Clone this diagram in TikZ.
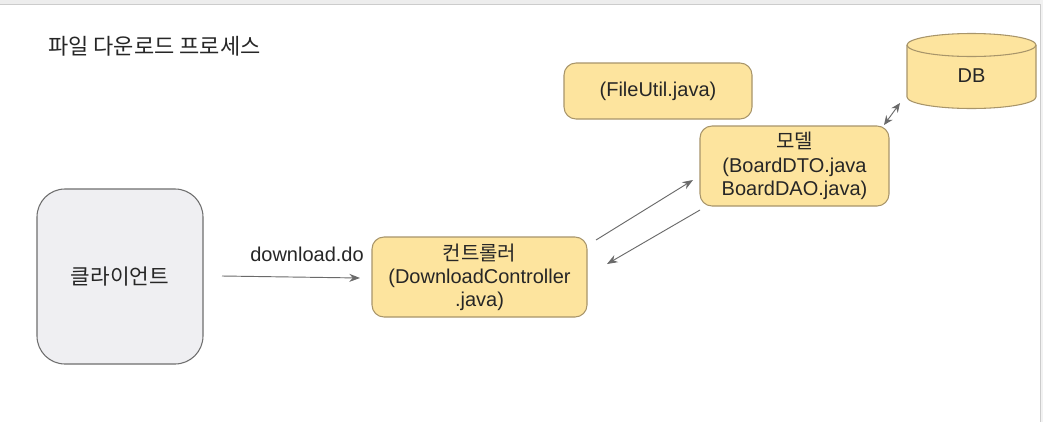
\documentclass[tikz,border=0pt]{standalone}
\usepackage{fontspec}
\setmainfont{Liberation Sans}
\newfontfamily\kr{Noto Sans CJK KR}
\usetikzlibrary{arrows.meta,calc}
\definecolor{boxfill}{HTML}{FDE49E}
\definecolor{boxline}{HTML}{A8956A}
\definecolor{clfill}{HTML}{EFEFF2}
\definecolor{clline}{HTML}{6E6E6E}
\definecolor{arr}{HTML}{6A6A6A}
\begin{document}
\begin{tikzpicture}[x=0.75pt,y=-0.75pt,
  txt/.style={font=\fontsize{15}{17.4}\selectfont, text=black!85, align=center},
  ybox/.style={txt, draw=boxline, fill=boxfill, line width=0.8pt, rounded corners=9pt, inner sep=0pt},
  conn/.style={draw=arr, line width=0.7pt, -{Stealth[length=8pt,width=6pt]}}]
\useasboundingbox (0,0) rectangle (1043,422);
\fill[white] (0,0) rectangle (1043,422);
\fill[black!7] (0,0) rectangle (1043,4);
\fill[black!5] (1040,0) rectangle (1043,422);
\draw[black!20, line width=0.6pt] (0,4) -- (1040,4) -- (1040,422);

\node[anchor=west, font=\kr\fontsize{16.5}{19}\selectfont, text=black!85, inner sep=0pt] (title) at (48,46) {파일 다운로드 프로세스};

\node[txt, draw=clline, fill=clfill, line width=0.8pt, rounded corners=21pt,
      minimum width=124.5pt, minimum height=131.25pt, inner sep=0pt] (client) at (120,276.5) {\kr\fontsize{16}{18}\selectfont 클라이언트};

\node[ybox, minimum width=161.25pt, minimum height=60pt] (ctrl) at (479.5,277)
  {{\kr 컨트롤러}\\(DownloadController\\.java)};

\node[ybox, minimum width=141pt, minimum height=42pt] (util) at (658,91) {(FileUtil.java)};

\node[ybox, minimum width=141.75pt, minimum height=60pt] (model) at (794.5,166)
  {{\kr 모델}\\(BoardDTO.java\\BoardDAO.java)};

% DB cylinder
\filldraw[fill=boxfill, draw=boxline, line width=0.8pt]
  (907,45) -- (907,97) arc[start angle=180, end angle=0, x radius=64.5, y radius=11.5]
  -- (1036,45) arc[start angle=0, end angle=-180, x radius=64.5, y radius=11.5] -- cycle;
\draw[boxline, line width=0.8pt] (907,45) arc[start angle=180, end angle=0, x radius=64.5, y radius=11.5];
\node[txt] (db) at (971.5,76) {DB};

\coordinate (c1) at (222,276);
\coordinate (c2) at (360,278);
\draw[conn] (c1) -- (c2) node[txt, pos=0.616, above=8pt] (lbl) {download.do};

\coordinate (a1) at (596,240);
\coordinate (a2) at (693,180);
\draw[conn] (a1) -- (a2);
\coordinate (b1) at (700,210);
\coordinate (b2) at (607,264);
\draw[conn] (b1) -- (b2);
\coordinate (d1) at (884,125);
\coordinate (d2) at (900,103);
\draw[conn, {Stealth[length=7pt,width=6pt]}-{Stealth[length=7pt,width=6pt]}] (d1) -- (d2);
\end{tikzpicture}
\end{document}
